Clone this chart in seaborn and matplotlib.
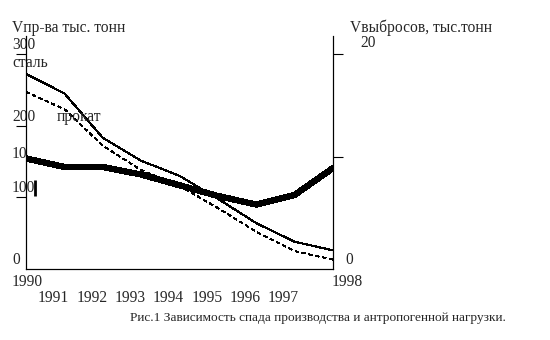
import matplotlib
matplotlib.use("Agg")
import matplotlib.pyplot as plt
import matplotlib.transforms as mtransforms
import pandas as pd
import seaborn as sns

# Production (thousand tonnes) and emissions (thousand tonnes), 1990-1998
years = [1990, 1991, 1992, 1993, 1994, 1995, 1996, 1997, 1998]
steel = [272, 245, 183, 151, 130, 98, 64, 38, 26]
rolled = [247, 223, 172, 138, 116, 85, 52, 25, 13]
emissions = [10.3, 9.5, 9.5, 8.8, 7.8, 6.8, 6.0, 6.9, 9.4]

left_ticks = [100, 200, 300]
left_labels = ["100", "200", "300"]
right_ticks = [10.4, 20]

sns.set_style("white")
plt.rcParams["font.family"] = ["Liberation Serif", "DejaVu Serif"]
plt.rcParams["axes.linewidth"] = 0.8

W, H = 550, 340
fig = plt.figure(figsize=(W / 100, H / 100), dpi=100)
ax = fig.add_axes([26 / W, 1 - 269 / H, (333 - 26) / W, (269 - 36) / H])
ax2 = ax.twinx()

df = pd.DataFrame({"year": years, "steel": steel, "rolled": rolled,
                   "emissions": emissions})

sns.lineplot(data=df, x="year", y="steel", ax=ax, color="black",
             linewidth=0.8, antialiased=False)
sns.lineplot(data=df, x="year", y="rolled", ax=ax, color="black",
             linewidth=0.8, antialiased=False)
ax.lines[-1].set_dashes([3.5, 3])
sns.lineplot(data=df, x="year", y="emissions", ax=ax2, color="black",
             linewidth=3.8, antialiased=False)

ax.set_xlim(1990, 1998)
ax.set_ylim(0, 325)
ax2.set_ylim(0, 21.7)

for a in (ax, ax2):
    a.set_xlabel("")
    a.set_ylabel("")
    a.spines["top"].set_visible(False)
    for s in a.spines.values():
        s.set_color("black")

ax.set_yticks(left_ticks)
ax.set_yticklabels([])
ax.tick_params(axis="y", direction="out", length=7, width=0.8, color="black")
ax2.set_yticks(right_ticks)
ax2.set_yticklabels([])
ax2.tick_params(axis="y", direction="out", length=7, width=0.8, color="black")
ax.set_xticks(years[1:-1])
ax.set_xticklabels([])
ax.tick_params(axis="x", direction="out", length=7, width=0.8, color="black")

fs = 11.2
px = lambda dx, dy: mtransforms.offset_copy(
    ax.transData, fig=fig, x=dx, y=dy, units="dots")

# Left tick labels, sitting above each tick mark
ax.text(years[0], 0, "0", transform=px(-14, 1), fontsize=fs, ha="left", va="bottom")
for t, lab in zip(left_ticks, left_labels):
    ax.text(years[0], t, lab, transform=px(-14, 1), fontsize=fs,
            ha="left", va="bottom")
ax.text(years[0], 100, "10", transform=px(-14, 35), fontsize=fs,
        ha="left", va="bottom")
ax.plot([years[0]], [100], transform=px(9, 9), marker="|", markersize=11,
        markeredgewidth=2, color="black")

# Right tick labels
ax2.text(years[-1], 0, "0", transform=mtransforms.offset_copy(
    ax2.transData, fig=fig, x=12, y=1, units="dots"), fontsize=fs,
    ha="left", va="bottom")
ax2.text(years[-1], 20, "20", transform=mtransforms.offset_copy(
    ax2.transData, fig=fig, x=27, y=3, units="dots"), fontsize=fs,
    ha="left", va="bottom")

# Year labels
ax.text(years[0], 0, str(years[0]), transform=px(-14, -21), fontsize=fs,
        ha="left", va="bottom")
ax.text(years[-1], 0, str(years[-1]), transform=px(-1, -21), fontsize=fs,
        ha="left", va="bottom")
for y in years[1:-1]:
    ax.text(y, 0, str(y), transform=px(-11, -37), fontsize=fs,
            ha="center", va="bottom")

# Axis titles and series names
fig.text(12 / W, 1 - 36 / H, "Vпр-ва тыс. тонн", fontsize=fs, ha="left", va="bottom")
fig.text(350 / W, 1 - 36 / H, "Vвыбросов, тыс.тонн", fontsize=fs, ha="left", va="bottom")
fig.text(12 / W, 1 - 71 / H, "сталь", fontsize=fs, ha="left", va="bottom")
fig.text(57 / W, 1 - 125 / H, "прокат", fontsize=fs, ha="left", va="bottom")
fig.text(130 / W, 1 - 324 / H,
         "Рис.1 Зависимость спада производства и антропогенной нагрузки.",
         fontsize=9.6, ha="left", va="bottom")

fig.savefig("out.png", dpi=100)
